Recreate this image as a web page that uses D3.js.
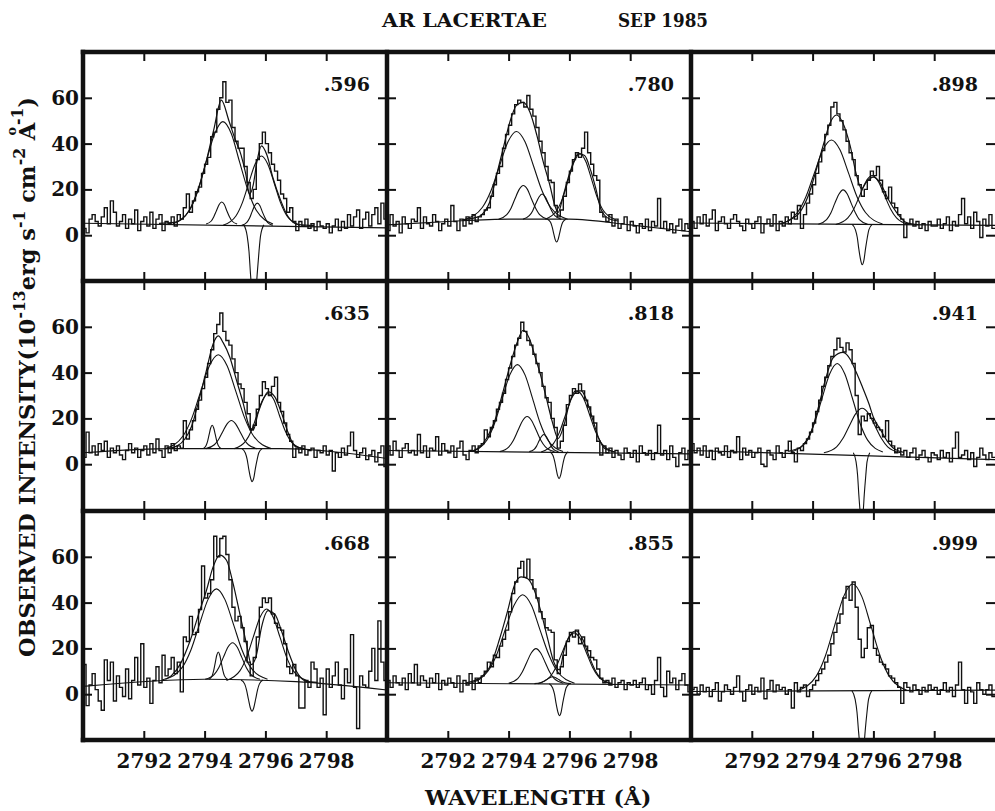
<!DOCTYPE html>
<html>
<head>
<meta charset="utf-8">
<script src="https://cdn.jsdelivr.net/npm/d3@7"></script>
<style>
  html, body { margin: 0; padding: 0; background: #fff; }
  svg { display: block; }
  text { font-family: "DejaVu Serif", serif; font-weight: bold; fill: #111; }
</style>
</head>
<body>
<svg id="chart" width="995" height="811"></svg>
<script>
// AR Lac, Mg II k line profiles at nine orbital phases (September 1985)
const phases = [".596", ".780", ".898", ".635", ".818", ".941", ".668", ".855", ".999"];
const xTicks = [2792, 2794, 2796, 2798];
const yTicks = [0, 20, 40, 60];
const wlStart = 2790.0;
const wlStep = 0.1;

// Observed flux in 0.1 Å bins starting at 2790.0 Å (10^-13 erg s^-1 cm^-2 Å^-1)
const flux596 = [3,1,7,9,6,4,8,12,5,15, 10,4,6,9,3,7,5,11,2,6, 8,4,10,3,7,9,2,6,5,8, 4,9,7,12,18,10,15,19,21,27,
  31,34,43,45,55,60,67,58,59,47, 41,38,38,30,23,16,20,33,40,45, 40,36,31,28,24,18,16,10,12,6,
  2,6,4,7,3,5,2,6,4,3, 5,1,4,7,2,6,3,9,4,8, 11,3,7,10,4,9,12,5,14,7];
const flux780 = [2,9,4,6,1,8,5,3,7,6, 12,3,8,5,4,9,6,2,5,7, 4,13,6,2,7,4,8,5,9,6, 8,9,11,12,17,22,27,30,38,44,
  48,53,57,59,58,56,61,55,52,47, 41,36,30,24,23,13,8,11,17,23, 28,33,36,34,38,45,36,31,26,24,
  10,8,6,9,4,7,3,5,8,2, 6,4,1,5,3,7,2,6,4,16, 3,6,2,5,1,4,7,2,5,3];
const flux898 = [6,3,8,5,9,4,7,11,2,6, 8,5,3,7,9,6,4,2,7,5, 3,6,8,1,5,7,4,9,2,6, 4,8,5,10,7,13,3,9,14,18,
  22,27,32,37,44,48,56,58,53,50, 46,41,36,33,26,22,17,20,24,28, 26,30,24,19,16,21,14,12,9,7,
  -1,5,7,4,6,3,5,2,6,4, 4,7,3,5,8,2,6,4,9,16, 5,8,3,10,6,-1,7,4,9,3];
const flux635 = [3,14,5,8,4,9,6,10,3,7, 5,8,4,2,6,9,5,7,3,6, 8,4,9,5,11,6,3,8,5,9, 6,8,7,19,11,15,19,24,28,33,
  38,44,50,57,61,66,58,54,52,46, 40,35,33,27,22,15,17,24,30,36, 33,30,34,38,27,23,18,13,10,3,
  7,5,8,4,6,7,3,6,5,8, 4,6,-3,5,3,7,4,8,14,6, 3,5,7,2,4,6,1,5,8,-1];
const flux818 = [8,4,10,6,3,7,9,5,6,4, 13,5,8,3,7,6,12,4,9,6, 5,8,3,7,10,4,2,6,8,5, 8,9,15,12,16,19,24,27,31,37,
  42,47,52,55,62,58,54,52,48,44, 40,34,29,27,20,16,7,10,17,26, 30,33,31,35,32,28,25,21,18,10,
  4,8,5,7,3,6,4,2,7,5, 3,6,1,8,5,4,6,2,5,17, 4,6,2,8,3,-1,5,7,2,6];
const flux941 = [9,5,7,4,8,3,6,2,7,5, 4,8,3,6,5,12,2,7,4,6, 3,5,7,0,-1,6,4,2,8,5, 3,6,10,5,1,7,6,9,11,14,
  18,23,28,34,38,43,47,50,55,51, 49,53,50,44,30,13,21,19,22,20, 18,16,15,12,19,10,8,5,7,4,
  6,3,5,7,2,4,6,3,1,5, 4,2,6,3,5,1,7,14,3,4, 6,2,5,-1,3,7,4,2,5,3];
const flux668 = [13,-5,4,9,2,-3,-7,15,6,14, -3,8,3,-1,11,-2,6,16,4,22, 3,7,-4,6,12,5,17,8,11,16, 9,14,1,25,23,34,26,27,37,56,
  42,44,50,69,60,68,69,61,50,38, 32,34,29,23,14,8,16,25,38,42, 40,42,35,31,29,28,22,12,9,13,
  8,-6,-6,6,3,14,11,3,7,-9, 11,3,8,14,4,-2,11,5,26,3, -15,8,4,3,10,20,6,32,14,6];
const flux855 = [6,3,8,5,4,7,2,9,5,13, 4,8,6,3,7,5,9,2,6,4, 7,5,3,8,1,6,4,9,2,7, 5,8,10,14,12,17,16,21,24,28,
  36,44,49,55,58,51,59,50,46,42, 36,33,29,28,27,15,9,12,17,23, 27,25,28,22,25,21,19,16,15,11,
  7,5,6,4,7,3,5,6,2,5, 4,6,3,5,7,2,4,0,6,16, 3,-1,10,5,7,2,6,9,4,1];
const flux999 = [2,3,0,4,1,3,-1,2,5,-3, 1,4,2,0,3,8,1,-3,2,4, 0,3,1,7,-2,2,6,1,4,2, 3,0,2,-6,5,1,3,4,-1,2,
  4,6,9,11,14,17,22,27,31,35, 42,47,41,49,38,24,16,20,29,30, 20,17,14,13,11,8,7,5,3,-4,
  5,3,1,4,2,0,3,1,4,2, 3,0,2,5,1,3,-1,4,14,2, -4,3,1,-4,5,2,0,2,4,-1];

// Fitted continuum, [wavelength, flux]
const cont596 = [[2790,5.2],[2800,3.2]];
const cont780 = [[2790,4.5],[2792,6],[2794,7],[2796,7],[2798,4.5],[2800,1.5]];
const cont898 = [[2790,5.3],[2800,4.3]];
const cont635 = [[2790,5],[2793,6.8],[2796.5,6.8],[2800,2.5]];
const cont818 = [[2790,6],[2800,4.5]];
const cont941 = [[2790,6],[2800,2]];
const cont668 = [[2790,3.4],[2794,6.5],[2797,5.5],[2800,1.8]];
const cont855 = [[2790,5],[2800,4]];
const cont999 = [[2790,1.2],[2800,1.8]];

// Total fitted profile
const fit596 = [[2792.5,5.2],[2793.0,5.6],[2793.5,10.9],[2793.8,20.6],[2794.05,32.1],[2794.3,46],[2794.55,59],[2794.8,50],[2795.0,42],[2795.2,35],[2795.35,27],[2795.48,18],[2795.6,22],[2795.72,32],[2795.87,39],[2796.05,35],[2796.25,25],[2796.5,15.3],[2796.75,8],[2797.1,4.6],[2797.6,4.2]];
const fit780 = [[2792.5,6.8],[2793.0,8],[2793.38,14.5],[2793.6,26],[2793.82,37.8],[2794.04,49.4],[2794.26,56.7],[2794.48,58],[2794.7,53.8],[2794.93,43.6],[2795.14,32],[2795.36,21.7],[2795.52,13],[2795.63,10],[2795.8,17.4],[2796.02,27.6],[2796.3,35.6],[2796.5,34.8],[2796.7,28.3],[2796.87,20.3],[2797.03,11.6],[2797.3,7.2],[2797.6,6.2]];
const fit898 = [[2793.0,5.2],[2793.3,7],[2793.58,10],[2793.86,17.3],[2794.13,29],[2794.35,39.3],[2794.57,48.9],[2794.79,52.5],[2795.0,48.9],[2795.23,39.3],[2795.45,26],[2795.61,20.3],[2795.77,23.2],[2795.99,25.4],[2796.21,23.2],[2796.48,15.9],[2796.76,10],[2797.09,5.5],[2797.5,4.6]];
const fit635 = [[2792.8,6.9],[2793.1,8],[2793.35,11],[2793.57,16.5],[2793.84,29.4],[2794.06,41],[2794.28,52.5],[2794.45,56],[2794.61,53.1],[2794.83,46.7],[2795.05,36.6],[2795.27,26.6],[2795.47,16.5],[2795.6,15],[2795.76,22.3],[2795.92,28],[2796.09,31.6],[2796.31,29.4],[2796.53,22.3],[2796.75,13.7],[2796.97,7.9],[2797.3,6.8]];
const fit818 = [[2792.8,5.7],[2793.05,7.5],[2793.27,11.2],[2793.53,18.4],[2793.78,29.8],[2794.04,42.8],[2794.29,53.5],[2794.48,58.5],[2794.68,55],[2794.87,47],[2795.06,38.5],[2795.25,28.4],[2795.44,18.4],[2795.63,11.2],[2795.82,17],[2796.01,27],[2796.2,32],[2796.39,32],[2796.59,27],[2796.78,19],[2796.97,11.2],[2797.16,6.9],[2797.5,5.4]];
const fit941 = [[2793.2,5.6],[2793.45,6.5],[2793.67,8],[2793.92,12.9],[2794.18,24.4],[2794.43,37.3],[2794.68,46.6],[2795.0,48.8],[2795.25,45.5],[2795.44,40],[2795.63,34],[2795.85,26.5],[2796.0,20.5],[2796.2,15.8],[2796.46,10],[2796.71,6.5],[2797.0,5.2]];
const fit668 = [[2792.6,6.2],[2792.9,8],[2793.19,12.9],[2793.52,23.2],[2793.84,36.5],[2794.06,45.3],[2794.28,55.6],[2794.5,60.7],[2794.72,58.5],[2794.94,48.2],[2795.16,35],[2795.38,21.8],[2795.54,12.9],[2795.71,17.4],[2795.87,29.1],[2796.09,36.5],[2796.31,35],[2796.53,27.6],[2796.75,18.8],[2797.02,10],[2797.35,5.6],[2797.7,5.2]];
const fit855 = [[2792.6,5],[2792.85,5.8],[2793.1,7.5],[2793.42,13],[2793.7,24],[2793.97,36.5],[2794.19,47.5],[2794.41,51.2],[2794.63,50.4],[2794.85,45.3],[2795.07,35.7],[2795.29,23.9],[2795.5,13.6],[2795.67,10.6],[2795.83,19.5],[2796.0,25.4],[2796.22,27.6],[2796.44,23.9],[2796.65,16.5],[2796.87,9.9],[2797.09,6.2],[2797.4,4.7]];
const fit999 = [];

// Emission components of the fit
const comps596 = [
  [[2792.95,4.9],[2793.5,10.9],[2793.78,19.4],[2794.05,32.0],[2794.33,44.3],[2794.6,49.6],[2794.88,44.3],[2795.15,32.0],[2795.43,19.4],[2795.7,10.9],[2796.25,4.9]],
  [[2794.05,4.9],[2794.22,6.2],[2794.3,8.0],[2794.39,10.7],[2794.48,13.4],[2794.56,14.5],[2794.65,13.4],[2794.73,10.7],[2794.82,8.0],[2794.9,6.2],[2795.07,4.9]],
  [[2794.61,4.3],[2795.03,8.4],[2795.24,14.1],[2795.45,22.7],[2795.66,31.0],[2795.87,34.6],[2796.08,31.0],[2796.29,22.7],[2796.5,14.1],[2796.71,8.4],[2797.13,4.3]],
  [[2795.22,4.3],[2795.39,5.6],[2795.48,7.5],[2795.56,10.2],[2795.65,12.9],[2795.73,14.0],[2795.82,12.9],[2795.9,10.2],[2795.99,7.5],[2796.07,5.6],[2796.24,4.3]]
];
const comps780 = [
  [[2792.58,7],[2793.14,12.2],[2793.42,19.4],[2793.7,30.2],[2793.98,40.8],[2794.26,45.3],[2794.54,40.8],[2794.82,30.2],[2795.1,19.4],[2795.38,12.2],[2795.94,7]],
  [[2793.67,7],[2793.94,9.0],[2794.08,11.8],[2794.21,15.9],[2794.35,20.0],[2794.48,21.7],[2794.62,20.0],[2794.75,15.9],[2794.89,11.8],[2795.02,9.0],[2795.29,7]],
  [[2794.47,7],[2794.68,8.5],[2794.79,10.6],[2794.89,13.7],[2795.0,16.7],[2795.1,18.0],[2795.21,16.7],[2795.31,13.7],[2795.42,10.6],[2795.52,8.5],[2795.73,7]],
  [[2795.21,7],[2795.59,10.9],[2795.78,16.3],[2795.97,24.4],[2796.16,32.2],[2796.35,35.6],[2796.54,32.2],[2796.73,24.4],[2796.92,16.3],[2797.11,10.9],[2797.49,7]]
];
const comps898 = [
  [[2792.94,4.9],[2793.5,9.9],[2793.78,16.8],[2794.06,27.2],[2794.34,37.3],[2794.62,41.6],[2794.9,37.3],[2795.18,27.2],[2795.46,16.8],[2795.74,9.9],[2796.3,4.9]],
  [[2794.19,4.8],[2794.46,6.8],[2794.6,9.7],[2794.73,13.9],[2794.87,18.0],[2795.0,19.8],[2795.14,18.0],[2795.27,13.9],[2795.41,9.7],[2795.54,6.8],[2795.81,4.8]],
  [[2794.76,4.7],[2795.16,7.6],[2795.36,11.6],[2795.56,17.6],[2795.76,23.5],[2795.96,26.0],[2796.16,23.5],[2796.36,17.6],[2796.56,11.6],[2796.76,7.6],[2797.16,4.7]]
];
const comps635 = [
  [[2792.71,6.8],[2793.29,12.3],[2793.58,20.1],[2793.87,31.7],[2794.16,43.0],[2794.45,47.8],[2794.74,43.0],[2795.03,31.7],[2795.32,20.1],[2795.61,12.3],[2796.19,6.8]],
  [[2793.95,6.8],[2794.05,8.2],[2794.1,10.1],[2794.15,13.0],[2794.2,15.8],[2794.25,17.0],[2794.3,15.8],[2794.35,13.0],[2794.4,10.1],[2794.45,8.2],[2794.55,6.8]],
  [[2794.04,6.8],[2794.32,8.5],[2794.46,10.8],[2794.6,14.3],[2794.74,17.6],[2794.88,19.1],[2795.02,17.6],[2795.16,14.3],[2795.3,10.8],[2795.44,8.5],[2795.72,6.8]],
  [[2794.98,6.8],[2795.35,10.1],[2795.54,14.6],[2795.72,21.4],[2795.91,28.1],[2796.09,30.9],[2796.28,28.1],[2796.46,21.4],[2796.65,14.6],[2796.83,10.1],[2797.2,6.8]]
];
const comps818 = [
  [[2792.79,5.5],[2793.29,10.6],[2793.54,17.9],[2793.79,28.6],[2794.04,39.0],[2794.29,43.5],[2794.54,39.0],[2794.79,28.6],[2795.04,17.9],[2795.29,10.6],[2795.79,5.5]],
  [[2793.71,5.5],[2794.01,7.6],[2794.16,10.5],[2794.31,14.8],[2794.46,19.0],[2794.61,20.8],[2794.76,19.0],[2794.91,14.8],[2795.06,10.5],[2795.21,7.6],[2795.51,5.5]],
  [[2794.68,5.5],[2794.84,6.5],[2794.92,7.9],[2795.0,10.1],[2795.08,12.1],[2795.16,13.0],[2795.24,12.1],[2795.32,10.1],[2795.4,7.9],[2795.48,6.5],[2795.64,5.5]],
  [[2795.07,5.3],[2795.47,8.9],[2795.67,13.9],[2795.87,21.4],[2796.07,28.7],[2796.27,31.8],[2796.47,28.7],[2796.67,21.4],[2796.87,13.9],[2797.07,8.9],[2797.47,5.3]]
];
const comps941 = [
  [[2793.31,5.3],[2793.81,10.5],[2794.06,17.9],[2794.31,28.8],[2794.56,39.4],[2794.81,44.0],[2795.06,39.4],[2795.31,28.8],[2795.56,17.9],[2795.81,10.5],[2796.31,5.3]],
  [[2794.37,5.0],[2794.79,7.6],[2795.0,11.3],[2795.21,16.8],[2795.42,22.1],[2795.63,24.4],[2795.84,22.1],[2796.05,16.8],[2796.26,11.3],[2796.47,7.6],[2796.89,5.0]]
];
const comps668 = [
  [[2792.71,6.5],[2793.27,11.8],[2793.55,19.3],[2793.83,30.5],[2794.11,41.3],[2794.39,46.0],[2794.67,41.3],[2794.95,30.5],[2795.23,19.3],[2795.51,11.8],[2796.07,6.5]],
  [[2794.15,6.5],[2794.25,8.1],[2794.3,10.4],[2794.35,13.7],[2794.4,17.0],[2794.45,18.4],[2794.5,17.0],[2794.55,13.7],[2794.6,10.4],[2794.65,8.1],[2794.75,6.5]],
  [[2794.02,6.5],[2794.32,8.7],[2794.47,11.7],[2794.62,16.2],[2794.77,20.6],[2794.92,22.5],[2795.07,20.6],[2795.22,16.2],[2795.37,11.7],[2795.52,8.7],[2795.82,6.5]],
  [[2794.72,6.0],[2795.16,10.2],[2795.38,16.1],[2795.6,24.9],[2795.82,33.5],[2796.04,37.2],[2796.26,33.5],[2796.48,24.9],[2796.7,16.1],[2796.92,10.2],[2797.36,6.0]]
];
const comps855 = [
  [[2792.75,4.8],[2793.32,10.0],[2793.61,17.3],[2793.89,28.2],[2794.18,38.8],[2794.46,43.4],[2794.75,38.8],[2795.03,28.2],[2795.32,17.3],[2795.6,10.0],[2796.17,4.8]],
  [[2794.0,4.8],[2794.3,6.8],[2794.45,9.7],[2794.6,14.0],[2794.75,18.1],[2794.9,19.9],[2795.05,18.1],[2795.2,14.0],[2795.35,9.7],[2795.5,6.8],[2795.8,4.8]],
  [[2794.85,4.6],[2795.05,5.0],[2795.15,5.6],[2795.25,6.4],[2795.35,7.2],[2795.45,7.6],[2795.55,7.2],[2795.65,6.4],[2795.75,5.6],[2795.85,5.0],[2796.05,4.6]],
  [[2794.96,4.6],[2795.36,7.6],[2795.56,11.8],[2795.76,18.1],[2795.96,24.2],[2796.16,26.8],[2796.36,24.2],[2796.56,18.1],[2796.76,11.8],[2796.96,7.6],[2797.36,4.6]]
];
const comps999 = [
  [[2793.52,1.6],[2794.12,7.9],[2794.42,16.7],[2794.72,29.8],[2795.02,42.6],[2795.32,48.1],[2795.62,42.6],[2795.92,29.8],[2796.22,16.7],[2796.52,7.9],[2797.12,1.6]]
];

// Interstellar absorption component
const abs596 = [[2795.29,4.5],[2795.4,-0.3],[2795.46,-7.0],[2795.51,-17.0],[2795.57,-26.8],[2795.62,-31.0],[2795.68,-26.8],[2795.73,-17.0],[2795.79,-7.0],[2795.84,-0.3],[2795.95,4.5]];
const abs780 = [[2795.28,7],[2795.38,5.65],[2795.43,3.75],[2795.48,0.93],[2795.53,-1.8],[2795.58,-3],[2795.63,-1.8],[2795.68,0.93],[2795.73,3.75],[2795.78,5.65],[2795.88,7]];
const abs898 = [[2795.3,4.7],[2795.41,2.3],[2795.47,-1.0],[2795.52,-6.0],[2795.58,-10.8],[2795.63,-12.9],[2795.69,-10.8],[2795.74,-6.0],[2795.8,-1.0],[2795.85,2.3],[2795.96,4.7]];
const abs635 = [[2795.23,6.8],[2795.34,4.9],[2795.4,2.1],[2795.45,-1.9],[2795.51,-5.9],[2795.56,-7.6],[2795.62,-5.9],[2795.67,-1.9],[2795.73,2.1],[2795.78,4.9],[2795.89,6.8]];
const abs818 = [[2795.36,5.4],[2795.46,3.8],[2795.51,1.6],[2795.56,-1.7],[2795.61,-4.9],[2795.66,-6.3],[2795.71,-4.9],[2795.76,-1.7],[2795.81,1.6],[2795.86,3.8],[2795.96,5.4]];
const abs941 = [[2795.34,5.0],[2795.43,1.0],[2795.48,-4.8],[2795.52,-13.2],[2795.57,-21.5],[2795.61,-25],[2795.66,-21.5],[2795.7,-13.2],[2795.75,-4.8],[2795.79,1.0],[2795.88,5.0]];
const abs668 = [[2795.2,6.2],[2795.32,4.4],[2795.38,1.8],[2795.44,-2.1],[2795.5,-5.8],[2795.56,-7.4],[2795.62,-5.8],[2795.68,-2.1],[2795.74,1.8],[2795.8,4.4],[2795.92,6.2]];
const abs855 = [[2795.34,4.6],[2795.45,2.7],[2795.51,0],[2795.56,-3.9],[2795.62,-7.7],[2795.67,-9.4],[2795.73,-7.7],[2795.78,-3.9],[2795.84,0],[2795.89,2.7],[2796.0,4.6]];
const abs999 = [[2795.29,1.6],[2795.4,-2.3],[2795.46,-7.8],[2795.51,-16],[2795.57,-24],[2795.62,-27.4],[2795.68,-24],[2795.73,-16],[2795.79,-7.8],[2795.84,-2.3],[2795.95,1.6]];

// Panel table, in reading order (left to right, top to bottom)
const fluxes = [flux596, flux780, flux898, flux635, flux818, flux941, flux668, flux855, flux999];
const conts  = [cont596, cont780, cont898, cont635, cont818, cont941, cont668, cont855, cont999];
const fits   = [fit596, fit780, fit898, fit635, fit818, fit941, fit668, fit855, fit999];
const comps  = [comps596, comps780, comps898, comps635, comps818, comps941, comps668, comps855, comps999];
const absorb = [abs596, abs780, abs898, abs635, abs818, abs941, abs668, abs855, abs999];

// ---- layout ----
const svg = d3.select("#chart");
const colX = [83, 387, 691], colW = 304;
const rowY = [52, 281, 511], rowH = 229;
const frameRight = 998, frameBottom = rowY[2] + rowH;
const defs = svg.append("defs");

phases.forEach((phase, i) => {
  const c = i % 3, r = Math.floor(i / 3);
  const x = d3.scaleLinear().domain([2790, 2800]).range([colX[c], colX[c] + colW]);
  const y = d3.scaleLinear().domain([-20, 80]).range([rowY[r] + rowH, rowY[r]]);

  defs.append("clipPath").attr("id", "clip" + i)
    .append("rect").attr("x", colX[c]).attr("y", rowY[r]).attr("width", colW).attr("height", rowH);

  const g = svg.append("g");
  const plot = g.append("g").attr("clip-path", `url(#clip${i})`)
    .attr("fill", "none").attr("stroke", "#111");

  const smooth = d3.line().x(d => x(d[0])).y(d => y(d[1])).curve(d3.curveMonotoneX);
  const steps = d3.line().x(d => x(d[0])).y(d => y(d[1])).curve(d3.curveStepAfter);

  // continuum, components, absorption and total fit
  plot.append("path").attr("d", smooth(conts[i])).attr("stroke-width", 1.1);
  comps[i].forEach(cp => plot.append("path").attr("d", smooth(cp)).attr("stroke-width", 1.1));
  plot.append("path").attr("d", smooth(absorb[i])).attr("stroke-width", 1.1);
  if (fits[i].length) plot.append("path").attr("d", smooth(fits[i])).attr("stroke-width", 1.2);

  // observed spectrum as a histogram
  const f = fluxes[i];
  const pts = f.map((v, k) => [wlStart + k * wlStep, v]);
  pts.push([wlStart + f.length * wlStep, f[f.length - 1]]);
  plot.append("path").attr("d", steps(pts)).attr("stroke-width", 1.4).attr("stroke-linejoin", "miter");

  // inward ticks on all four sides
  const tickStyle = sel => {
    sel.select(".domain").remove();
    sel.selectAll(".tick line").attr("stroke", "#111").attr("stroke-width", 2);
  };
  g.append("g").attr("transform", `translate(0,${rowY[r]})`)
    .call(d3.axisBottom(x).tickValues(xTicks).tickSize(9).tickFormat("")).call(tickStyle);
  g.append("g").attr("transform", `translate(0,${rowY[r] + rowH})`)
    .call(d3.axisTop(x).tickValues(xTicks).tickSize(9).tickFormat("")).call(tickStyle);
  g.append("g").attr("transform", `translate(${colX[c]},0)`)
    .call(d3.axisRight(y).tickValues(yTicks).tickSize(9).tickFormat("")).call(tickStyle);
  g.append("g").attr("transform", `translate(${colX[c] + colW},0)`)
    .call(d3.axisLeft(y).tickValues(yTicks).tickSize(9).tickFormat("")).call(tickStyle);

  // intensity labels on the left column
  if (c === 0) {
    const ya = g.append("g").attr("transform", `translate(${colX[0] - 1},0)`)
      .call(d3.axisLeft(y).tickValues(yTicks).tickSize(0).tickPadding(3).tickFormat(d3.format("d")));
    ya.select(".domain").remove();
    ya.selectAll("text").attr("font-size", 20).attr("font-family", "DejaVu Serif").attr("font-weight", "bold").attr("fill", "#111");
  }
  // wavelength labels under the bottom row
  if (r === 2) {
    const xa = g.append("g").attr("transform", `translate(0,${frameBottom})`)
      .call(d3.axisBottom(x).tickValues(xTicks).tickSize(0).tickPadding(14).tickFormat(d3.format("d")));
    xa.select(".domain").remove();
    xa.selectAll("text").attr("font-size", 20).attr("font-family", "DejaVu Serif").attr("font-weight", "bold").attr("fill", "#111");
  }

  // orbital phase
  g.append("text").attr("x", colX[c] + colW - 17).attr("y", rowY[r] + 39)
    .attr("text-anchor", "end").attr("font-size", 19).text(phase);
});

// heavy frame around and between the panels
const frame = svg.append("g").attr("stroke", "#111").attr("stroke-width", 4.5).attr("stroke-linecap", "square");
[colX[0], colX[1], colX[2], frameRight].forEach(xv =>
  frame.append("line").attr("x1", xv).attr("x2", xv).attr("y1", rowY[0]).attr("y2", frameBottom));
[rowY[0], rowY[1], rowY[2], frameBottom].forEach(yv =>
  frame.append("line").attr("x1", colX[0]).attr("x2", frameRight).attr("y1", yv).attr("y2", yv));

// title
svg.append("text").attr("x", 382).attr("y", 27).attr("font-size", 19)
  .attr("textLength", 165).attr("lengthAdjust", "spacingAndGlyphs").text("AR LACERTAE");
svg.append("text").attr("x", 618).attr("y", 27).attr("font-size", 19)
  .attr("textLength", 90).attr("lengthAdjust", "spacingAndGlyphs").text("SEP 1985");

// wavelength axis title
svg.append("text").attr("transform", "translate(425,805) scale(1.1,1)").attr("font-size", 20)
  .text("WAVELENGTH (Å)");

// intensity axis title
const yt = svg.append("text").attr("transform", "translate(35,657) rotate(-90)")
  .attr("font-size", 23).attr("textLength", 560).attr("lengthAdjust", "spacingAndGlyphs");
yt.append("tspan").text("OBSERVED INTENSITY(10");
yt.append("tspan").attr("dy", -10).attr("font-size", 16).text("-13");
yt.append("tspan").attr("dy", 10).text("erg s");
yt.append("tspan").attr("dy", -10).attr("font-size", 16).text("-1");
yt.append("tspan").attr("dy", 10).text(" cm");
yt.append("tspan").attr("dy", -10).attr("font-size", 16).text("-2");
yt.append("tspan").attr("dy", 10).text(" A");
yt.append("tspan").attr("dx", -13).attr("dy", -19).attr("font-size", 13).text("o");
yt.append("tspan").attr("dx", 2).attr("dy", 7).attr("font-size", 16).text("-1");
yt.append("tspan").attr("dy", 12).text(")");
</script>
</body>
</html>
